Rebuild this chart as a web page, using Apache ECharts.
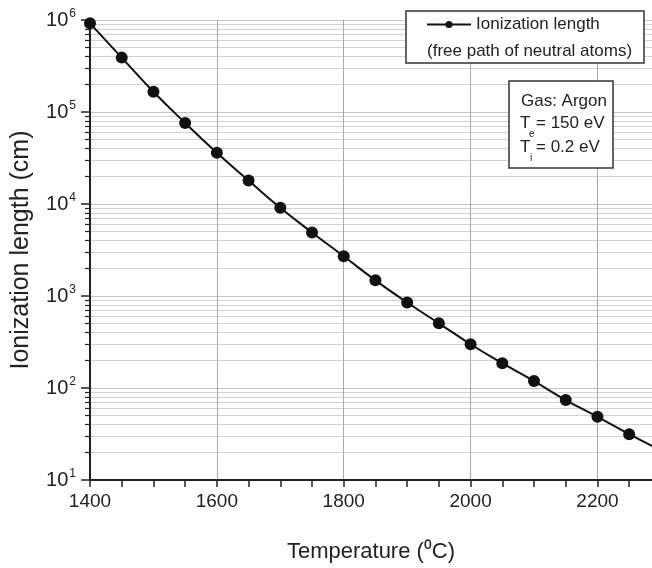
<!DOCTYPE html>
<html>
<head>
<meta charset="utf-8">
<script src="https://cdn.jsdelivr.net/npm/echarts@6/dist/echarts.min.js"></script>
<style>
html,body{margin:0;padding:0;background:#fff;}
#chart{width:652px;height:568px;}
</style>
</head>
<body>
<div id="chart"></div>
<script>
// Data
var temperatures = [1400,1450,1500,1550,1600,1650,1700,1750,1800,1850,1900,1950,2000,2050,2100,2150,2200,2250];
var ionLength = [9.2e5,3.9e5,1.66e5,7.6e4,3.6e4,1.8e4,9.1e3,4.9e3,2.7e3,1.48e3,850,505,299,186,119,74,48.6,31.5];
var tailPoint = [2300, 21]; // curve continues past the last marker
var xTicks = [1400,1600,1800,2000,2200];
var xMinorTicks = [1400,1450,1500,1550,1600,1650,1700,1750,1800,1850,1900,1950,2000,2050,2100,2150,2200,2250];
var yMajorTicks = [10,100,1000,10000,100000,1000000];
var yMinorTicks = [];
for (var k = 1; k < 6; k++) { for (var m = 2; m <= 9; m++) { yMinorTicks.push(m * Math.pow(10, k)); } }
var seriesName = 'Ionization length';
var legendNote = '(free path of neutral atoms)';

var FONT = '"Liberation Sans", Arial, sans-serif';
var X_MAX = 2286;
var lineData = temperatures.map(function (t, i) { return [t, ionLength[i]]; });
lineData.push({ value: tailPoint, symbol: 'none' });

var chart = echarts.init(document.getElementById('chart'), null, { renderer: 'canvas' });
chart.setOption({
  animation: false,
  backgroundColor: '#fff',
  grid: { left: 90, top: 20, bottom: 87, right: 0, containLabel: false },
  xAxis: [{
    type: 'value', min: 1400, max: X_MAX,
    name: 'Temperature (\u2070C)', nameLocation: 'middle', nameGap: 61,
    nameTextStyle: { fontFamily: FONT, fontSize: 22, color: '#222' },
    axisLine: { show: true, onZero: false, lineStyle: { color: '#222', width: 2 } },
    axisTick: { show: true, inside: false, length: 7, lineStyle: { color: '#222', width: 1.5 }, customValues: xMinorTicks },
    axisLabel: { customValues: xTicks, fontFamily: FONT, fontSize: 19, color: '#222', margin: 12,
      formatter: function (v) { return String(v); } },
    splitLine: { show: false }
  }, {
    type: 'value', min: 1400, max: X_MAX, position: 'bottom',
    axisLine: { show: false },
    axisTick: { show: false, customValues: xTicks },
    axisLabel: { show: false, customValues: xTicks },
    splitLine: { show: true, lineStyle: { color: '#a8a8a8', width: 1 } }
  }],
  yAxis: [{
    type: 'log', logBase: 10, min: 10, max: 1e6,
    name: 'Ionization length (cm)', nameLocation: 'middle', nameGap: 56,
    nameTextStyle: { fontFamily: FONT, fontSize: 25, color: '#222' },
    axisLine: { show: true, lineStyle: { color: '#222', width: 2 } },
    axisTick: { show: true, length: 9, lineStyle: { color: '#222', width: 1.5 }, customValues: yMajorTicks },
    axisLabel: {
      customValues: yMajorTicks, margin: 14,
      formatter: function (v) { return '{b|10}{s|' + Math.round(Math.log10(v)) + '}'; },
      rich: {
        b: { fontFamily: FONT, fontSize: 20, color: '#222' },
        s: { fontFamily: FONT, fontSize: 12, color: '#222', padding: [0, 0, 12, 1] }
      }
    },
    splitLine: { show: true, lineStyle: { color: '#c4c4c4', width: 1.2 } }
  }, {
    type: 'log', logBase: 10, min: 10, max: 1e6, position: 'left',
    axisLine: { show: false },
    axisTick: { show: true, length: 5, lineStyle: { color: '#222', width: 1.2 }, customValues: yMinorTicks },
    axisLabel: { show: false },
    splitLine: { show: true, lineStyle: { color: '#d2d2d2', width: 1 } }
  }],
  legend: {
    show: true, left: 426, top: 16, padding: 0, itemGap: 0,
    itemWidth: 44, itemHeight: 9,
    textStyle: { fontFamily: FONT, fontSize: 17, color: '#222' },
    data: [seriesName], z: 20
  },
  graphic: [
    { type: 'rect', z: 15, shape: { x: 406, y: 11, width: 238, height: 52 }, style: { fill: '#fff', stroke: '#333', lineWidth: 1.5 } },
    { type: 'text', z: 21, x: 427, y: 51, style: { text: legendNote, font: '17px ' + FONT, fill: '#222', verticalAlign: 'middle', align: 'left' } },
    { type: 'rect', z: 15, shape: { x: 509, y: 81, width: 104, height: 87 }, style: { fill: '#fff', stroke: '#333', lineWidth: 1.5 } },
    { type: 'text', z: 21, x: 521, y: 101, style: { text: 'Gas: Argon', font: '17px ' + FONT, fill: '#222', verticalAlign: 'middle' } },
    { type: 'text', z: 21, x: 520, y: 123, style: { text: 'T', font: '17px ' + FONT, fill: '#222', verticalAlign: 'middle' } },
    { type: 'text', z: 21, x: 529, y: 134, style: { text: 'e', font: '10px ' + FONT, fill: '#222', verticalAlign: 'middle' } },
    { type: 'text', z: 21, x: 536, y: 123, style: { text: '= 150 eV', font: '17px ' + FONT, fill: '#222', verticalAlign: 'middle' } },
    { type: 'text', z: 21, x: 520, y: 147, style: { text: 'T', font: '17px ' + FONT, fill: '#222', verticalAlign: 'middle' } },
    { type: 'text', z: 21, x: 530, y: 158, style: { text: 'i', font: '10px ' + FONT, fill: '#222', verticalAlign: 'middle' } },
    { type: 'text', z: 21, x: 536, y: 147, style: { text: '= 0.2 eV', font: '17px ' + FONT, fill: '#222', verticalAlign: 'middle' } }
  ],
  series: [{
    name: seriesName, type: 'line', xAxisIndex: 0, yAxisIndex: 0,
    data: lineData, smooth: true,
    symbol: 'circle', symbolSize: 12, showAllSymbol: true,
    lineStyle: { color: '#111', width: 2 },
    itemStyle: { color: '#111' },
    z: 5
  }]
});
</script>
</body>
</html>
